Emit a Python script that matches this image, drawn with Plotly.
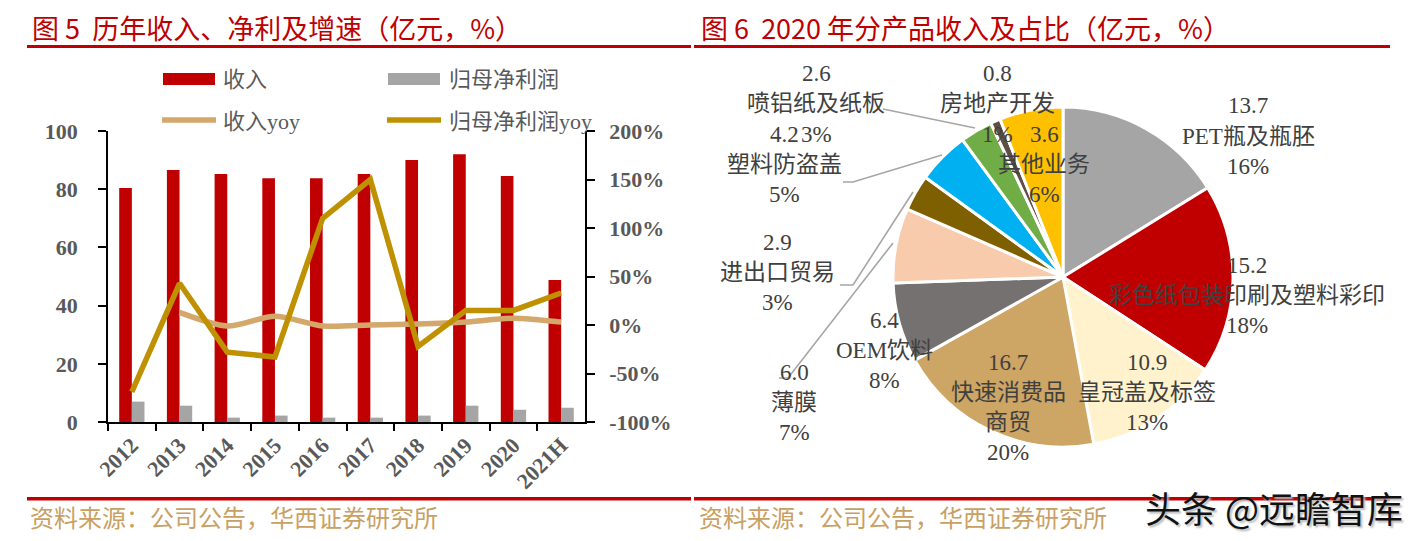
import plotly.graph_objects as go

W, H = 1425, 541          # browser window
OFF = 8                   # default page body margin
FW, FH = W - 2 * OFF, H - 2 * OFF   # figure size that fits inside the window

# ---------------- data: left chart ----------------
categories = ["2012", "2013", "2014", "2015", "2016", "2017", "2018", "2019", "2020", "2021H"]
revenue = [80.4, 86.6, 85.2, 83.8, 83.8, 85.2, 90.0, 92.0, 84.5, 48.8]
net_profit = [7.0, 5.6, 1.5, 2.2, 1.5, 1.5, 2.2, 5.6, 4.2, 4.9]
revenue_yoy = [None, 13, -1, 9, -1, 0, 1, 3, 7, 3]
net_profit_yoy = [-69, 43, -28, -33, 110, 150, -22, 15, 15, 33]

left_tickvals = [0, 20, 40, 60, 80, 100]
right_tickvals = [-100, -50, 0, 50, 100, 150, 200]
right_ticktext = ["-100%", "-50%", "0%", "50%", "100%", "150%", "200%"]

legend_names = ["收入", "归母净利润", "收入yoy", "归母净利润yoy"]

# ---------------- data: pie chart ----------------
pie_names = ["PET瓶及瓶胚", "彩色纸包装印刷及塑料彩印", "皇冠盖及标签", "快速消费品商贸", "OEM饮料",
             "薄膜", "进出口贸易", "塑料防盗盖", "喷铝纸及纸板", "房地产开发", "其他业务"]
pie_values = [13.7, 15.2, 10.9, 16.7, 6.4, 6.0, 2.9, 4.2, 2.6, 0.8, 5.1]
pie_value_labels = ["13.7", "15.2", "10.9", "16.7", "6.4", "6.0", "2.9", "4.2", "2.6", "0.8", "3.6"]
pie_pct_labels = ["16%", "18%", "13%", "20%", "8%", "7%", "3%", "5%", "3%", "1%", "6%"]

titles = ["图 5  历年收入、净利及增速（亿元，%）", "图 6  2020 年分产品收入及占比（亿元，%）"]
source_text = "资料来源：公司公告，华西证券研究所"
watermark = "头条 @远瞻智库"

# ---------------- styles ----------------
RED = "#C00000"
GRAY = "#A5A5A5"
TAN = "#D4A76A"
GOLD = "#BF9000"
AXIS_TXT = "#595959"
LABEL_TXT = "#404040"
SERIF = "Liberation Serif, Noto Sans CJK SC, serif"
CJK = "Noto Sans CJK SC, sans-serif"

pie_colors = ["#A5A5A5", "#C00000", "#FFF2CC", "#CDA564", "#767171", "#F8CBAD",
              "#7F6000", "#00B0F0", "#70AD47", "#5B5043", "#FFC000"]


def px(x):
    """window pixel x -> paper fraction"""
    return (x - OFF) / FW


def py(y):
    """window pixel y -> paper fraction"""
    return 1 - (y - OFF) / FH


fig = go.Figure()

fig.add_trace(go.Bar(x=categories, y=revenue, name=legend_names[0], marker_color=RED,
                     yaxis="y", showlegend=False))
fig.add_trace(go.Bar(x=categories, y=net_profit, name=legend_names[1], marker_color=GRAY,
                     yaxis="y", showlegend=False))
fig.add_trace(go.Scatter(x=categories, y=revenue_yoy, name=legend_names[2], mode="lines",
                         line=dict(color=TAN, width=5.5, shape="spline", smoothing=0.8),
                         yaxis="y2", showlegend=False))
fig.add_trace(go.Scatter(x=categories, y=net_profit_yoy, name=legend_names[3], mode="lines",
                         line=dict(color=GOLD, width=5.5),
                         yaxis="y2", showlegend=False))

fig.add_trace(go.Pie(labels=pie_names, values=pie_values, sort=False, direction="clockwise",
                     rotation=0, textinfo="none", showlegend=False, automargin=False,
                     marker=dict(colors=pie_colors, line=dict(color="white", width=3)),
                     domain=dict(x=[px(893), px(1233)], y=[py(447), py(107)])))

tickfont = dict(family=SERIF, size=22, color=AXIS_TXT, weight="bold")

fig.update_layout(
    template="none",
    width=FW, height=FH, margin=dict(l=0, r=0, t=0, b=0, pad=0, autoexpand=False),
    paper_bgcolor="white", plot_bgcolor="white",
    barmode="group", bargap=0.47, bargroupgap=0,
    xaxis=dict(domain=[px(108), px(585)], type="category", tickangle=-45, automargin=False,
               ticks="outside", tickson="boundaries", ticklen=7, tickwidth=1.5, tickcolor="black",
               showline=True, linecolor="black", linewidth=1.5, showgrid=False, zeroline=False,
               tickfont=dict(family=SERIF, size=22, color=AXIS_TXT, weight="bold"), anchor="y"),
    yaxis=dict(domain=[py(422), py(131)], range=[0, 100], tickvals=left_tickvals, automargin=False,
               ticks="outside", ticklen=8, tickwidth=1.5, tickcolor="black",
               showline=True, linecolor="black", linewidth=1.5, showgrid=False, zeroline=False,
               tickfont=tickfont, ticklabelstandoff=16),
    yaxis2=dict(overlaying="y", side="right", anchor="x", range=[-100, 200], automargin=False,
                tickvals=right_tickvals, ticktext=right_ticktext,
                ticks="outside", ticklen=8, tickwidth=1.5, tickcolor="black",
                showline=True, linecolor="black", linewidth=1.5, showgrid=False, zeroline=False,
                tickfont=tickfont, ticklabelstandoff=10),
)

shapes = []
# header / footer rules
for (x0, x1) in [(27, 691), (694, 1390)]:
    shapes.append(dict(type="rect", xref="paper", yref="paper", x0=px(x0), x1=px(x1),
                       y0=py(48), y1=py(45), fillcolor=RED, line=dict(width=0)))
    shapes.append(dict(type="rect", xref="paper", yref="paper", x0=px(x0), x1=px(x1),
                       y0=py(500.5), y1=py(497), fillcolor=RED, line=dict(width=0)))

# manual legend swatches
shapes.append(dict(type="rect", xref="paper", yref="paper", x0=px(163), x1=px(215),
                   y0=py(85), y1=py(73), fillcolor=RED, line=dict(width=0)))
shapes.append(dict(type="rect", xref="paper", yref="paper", x0=px(388), x1=px(440),
                   y0=py(85), y1=py(73), fillcolor=GRAY, line=dict(width=0)))
shapes.append(dict(type="line", xref="paper", yref="paper", x0=px(162), x1=px(216),
                   y0=py(120), y1=py(120), line=dict(color=TAN, width=5.5)))
shapes.append(dict(type="line", xref="paper", yref="paper", x0=px(387), x1=px(441),
                   y0=py(120), y1=py(120), line=dict(color=GOLD, width=5.5)))

# pie leader lines
leaders = [
    [(883, 109), (975, 128)],
    [(843, 182), (853, 182), (942, 155)],
    [(840, 285), (853, 285), (913, 192)],
    [(779, 378), (788, 378), (893, 243)],
]
for pts in leaders:
    path = "M " + " L ".join(f"{px(x)},{py(y)}" for x, y in pts)
    shapes.append(dict(type="path", xref="paper", yref="paper", path=path,
                       line=dict(color="#A6A6A6", width=1.6)))

annotations = []
# titles
annotations.append(dict(x=px(30), y=py(27), xref="paper", yref="paper", text=titles[0],
                        showarrow=False, xanchor="left", yanchor="middle",
                        font=dict(family=CJK, size=27, color=RED)))
annotations.append(dict(x=px(699), y=py(27), xref="paper", yref="paper", text=titles[1],
                        showarrow=False, xanchor="left", yanchor="middle",
                        font=dict(family=CJK, size=27, color=RED)))
# sources
for x0 in (28, 697):
    annotations.append(dict(x=px(x0), y=py(516), xref="paper", yref="paper", text=source_text,
                            showarrow=False, xanchor="left", yanchor="middle",
                            font=dict(family=CJK, size=24, color="#C9A063")))
# legend texts
legend_pos = [(221, 79), (447, 79), (221, 122), (447, 122)]
for name, (lx, ly) in zip(legend_names, legend_pos):
    annotations.append(dict(x=px(lx), y=py(ly), xref="paper", yref="paper", text=name,
                            showarrow=False, xanchor="left", yanchor="middle",
                            font=dict(family=SERIF, size=22, color=AXIS_TXT)))

# pie labels (block centre x, first-line y)
pie_label_pos = [(1248, 106), (1247, 265), (1147, 362), (1008, 362), (884, 320), (794, 372),
                 (777, 242), (784, 134), (816, 74), (997, 74), (1044, 134)]
pie_name_lines = [["PET瓶及瓶胚"], ["彩色纸包装印刷及塑料彩印"], ["皇冠盖及标签"], ["快速消费品", "商贸"],
                  ["OEM饮料"], ["薄膜"], ["进出口贸易"], ["塑料防盗盖"], ["喷铝纸及纸板"],
                  ["房地产开发"], ["其他业务"]]
for (bx, by), val, names, pct in zip(pie_label_pos, pie_value_labels, pie_name_lines, pie_pct_labels):
    lines = [val] + names + [pct]
    for i, t in enumerate(lines):
        annotations.append(dict(x=px(bx), y=py(by + 30 * i), xref="paper", yref="paper", text=t,
                                showarrow=False, xanchor="center", yanchor="middle",
                                font=dict(family=SERIF, size=23, color=LABEL_TXT)))

# watermark
annotations.append(dict(x=px(1405), y=py(507), xref="paper", yref="paper", text=watermark,
                        showarrow=False, xanchor="right", yanchor="middle",
                        font=dict(family=CJK, size=36, color="#111111",
                                  shadow="2px 2px 2px #bbbbbb")))

fig.update_layout(shapes=shapes, annotations=annotations)

fig.write_html("out.html")
